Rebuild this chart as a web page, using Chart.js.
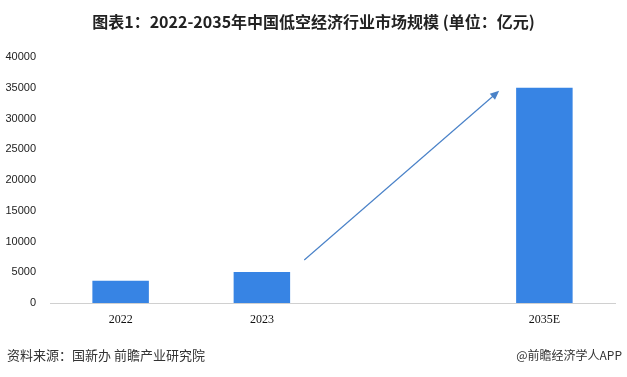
<html>
<head>
  <script src="https://cdn.jsdelivr.net/npm/chart.js@4/dist/chart.umd.min.js"></script>
  <style>
    body { margin: 0; width: 627px; height: 377px; background: #fff; position: relative; overflow: hidden; }
    #wrap { position: absolute; left: 0; top: 0; width: 627px; height: 377px; }
    .title { position: absolute; top: 9px; left: 0; width: 627px; text-align: center;
      font-family: "Noto Sans CJK SC", sans-serif; font-weight: bold; font-size: 16px; color: #222; }
    .src { position: absolute; top: 345px; left: 7px; font-family: "Noto Sans CJK SC", sans-serif; font-size: 13px; color: #333; }
    .app { position: absolute; top: 346px; right: 5px; font-family: "Noto Sans CJK SC", sans-serif; font-size: 12px; color: #333; }
  </style>
</head>
<body>
  <div id="wrap"><canvas id="bar-chart" width="627" height="377"></canvas></div>
  <div class="title">图表1：2022-2035年中国低空经济行业市场规模 (单位：亿元)</div>
  <div class="src">资料来源：国新办 前瞻产业研究院</div>
  <div class="app">@前瞻经济学人APP</div>
  <script>
    // data (亿元)
    const years = ['2022', '2023', '', '2035E'];
    const marketSize = [3600, 5060, null, 35000];
    const yTicks = [0, 5000, 10000, 15000, 20000, 25000, 30000, 35000, 40000];

    // trend arrow from 2023 up to 2035E, in data units (category index, value)
    const arrowFrom = [1.3, 7000];
    const arrowTo = [2.68, 34500];

    const arrowPlugin = {
      id: 'trendArrow',
      afterDatasetsDraw(chart) {
        const x = chart.scales.x, y = chart.scales.y, ctx = chart.ctx;
        const x1 = x.getPixelForValue(arrowFrom[0]), y1 = y.getPixelForValue(arrowFrom[1]);
        const x2 = x.getPixelForValue(arrowTo[0]), y2 = y.getPixelForValue(arrowTo[1]);
        const ang = Math.atan2(y2 - y1, x2 - x1);
        ctx.save();
        ctx.strokeStyle = '#4a82c8';
        ctx.fillStyle = '#4a82c8';
        ctx.lineWidth = 1.2;
        ctx.beginPath();
        ctx.moveTo(x1, y1);
        ctx.lineTo(x2 - 6 * Math.cos(ang), y2 - 6 * Math.sin(ang));
        ctx.stroke();
        ctx.beginPath();
        ctx.moveTo(x2, y2);
        ctx.lineTo(x2 - 9 * Math.cos(ang) + 4 * Math.sin(ang), y2 - 9 * Math.sin(ang) - 4 * Math.cos(ang));
        ctx.lineTo(x2 - 9 * Math.cos(ang) - 4 * Math.sin(ang), y2 - 9 * Math.sin(ang) + 4 * Math.cos(ang));
        ctx.closePath();
        ctx.fill();
        ctx.restore();
      }
    };

    new Chart('bar-chart', {
      type: 'bar',
      data: {
        labels: years,
        datasets: [{
          data: marketSize,
          backgroundColor: '#3784e4',
          barPercentage: 0.4,
          categoryPercentage: 1
        }]
      },
      options: {
        responsive: false,
        animation: false,
        layout: { padding: { top: 57, right: 12, left: 0, bottom: 0 } },
        plugins: { legend: { display: false }, tooltip: { enabled: false } },
        scales: {
          x: {
            offset: true,
            grid: { display: false, drawTicks: false },
            border: { color: '#d0d0d0', width: 1 },
            ticks: { color: '#111', padding: 10, font: { family: 'Liberation Serif', size: 12 } },
            afterFit(s) { s.height = 74; }
          },
          y: {
            min: 0, max: 40000,
            afterBuildTicks(s) { s.ticks = yTicks.map(v => ({ value: v })); },
            grid: { display: false, drawTicks: false },
            border: { display: false },
            ticks: {
              color: '#222', padding: 14, font: { family: 'Liberation Sans', size: 11 },
              callback: v => String(v)
            },
            afterFit(s) { s.width = 50; }
          }
        }
      },
      plugins: [arrowPlugin]
    });
  </script>
</body>
</html>
